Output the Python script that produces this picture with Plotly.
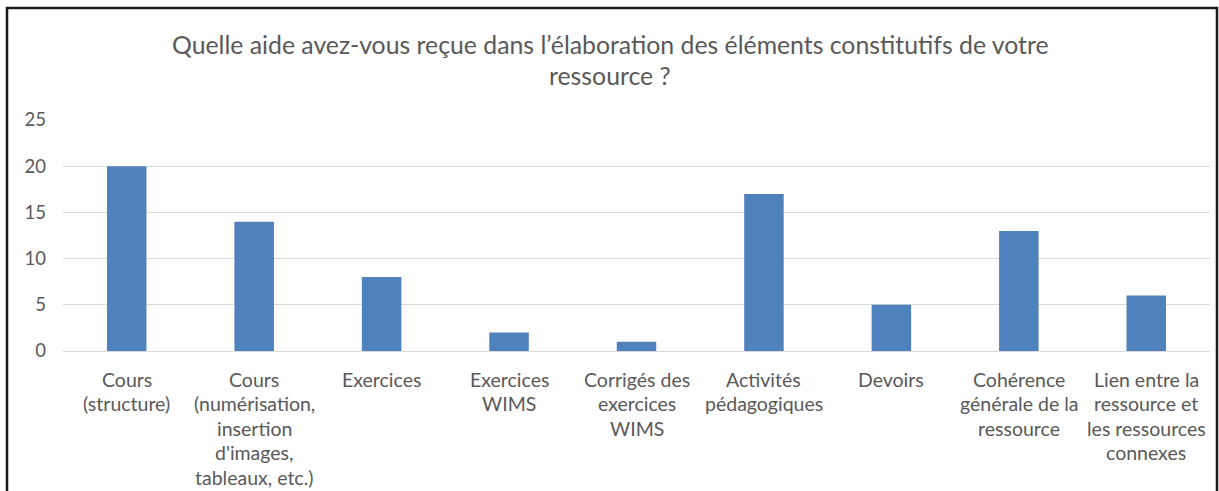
import plotly.graph_objects as go

categories = [
    "Cours\n(structure)",
    "Cours\n(numérisation,\ninsertion\nd'images,\ntableaux, etc.)",
    "Exercices",
    "Exercices\nWIMS",
    "Corrigés des\nexercices\nWIMS",
    "Activités\npédagogiques",
    "Devoirs",
    "Cohérence\ngénérale de la\nressource",
    "Lien entre la\nressource et\nles ressources\nconnexes",
]
values = [20, 14, 8, 2, 1, 17, 5, 13, 6]
y_ticks = [0, 5, 10, 15, 20, 25]
title_lines = [
    "Quelle aide avez-vous reçue dans l’élaboration des éléments constitutifs de votre",
    "ressource ?",
]

W, H = 1219, 491
ML, MR, MT, MB = 63, 9, 120, 140
PW, PH = W - ML - MR, H - MT - MB

FONT = "Lato"
TXT = "#595959"


def px_to_paper_x(px):
    return (px - ML) / PW


def px_to_paper_y(py):
    return (H - MB - py) / PH


fig = go.Figure()
fig.add_trace(go.Bar(
    x=list(range(len(categories))), y=values,
    marker=dict(color="#4F81BD", line=dict(width=0)),
    width=0.31, hoverinfo="y",
))

annotations = []
line_h = 24.5
for i, cat in enumerate(categories):
    for j, line in enumerate(cat.split("\n")):
        annotations.append(dict(
            x=i, xref="x", y=0, yref="paper", yanchor="middle",
            yshift=-(28 + j * line_h), text=line, showarrow=False,
            font=dict(family=FONT, size=19.5, color=TXT),
        ))
for j, line in enumerate(title_lines):
    annotations.append(dict(
        x=px_to_paper_x(610), xref="paper", y=1, yref="paper", yanchor="middle",
        yshift=(MT - 44 - j * 31), text=line, showarrow=False,
        font=dict(family=FONT, size=24.8, color=TXT),
        xanchor="center",
    ))

fig.add_shape(type="rect", xref="paper", yref="paper",
              x0=px_to_paper_x(7), x1=px_to_paper_x(1217),
              y0=px_to_paper_y(520), y1=px_to_paper_y(8),
              line=dict(color="#1a1a1a", width=2.5), layer="above")

fig.update_layout(
    width=W, height=H,
    margin=dict(l=ML, r=MR, t=MT, b=MB),
    paper_bgcolor="white", plot_bgcolor="white",
    showlegend=False,
    bargap=0.69,
    annotations=annotations,
    xaxis=dict(range=[-0.5, len(categories) - 0.5], showticklabels=False,
               showgrid=False, zeroline=False, showline=False, ticks=""),
    yaxis=dict(range=[0, 25], tickvals=y_ticks, showgrid=True,
               gridcolor="#D9D9D9", gridwidth=1, zeroline=True,
               zerolinecolor="#D9D9D9", zerolinewidth=1, showline=False,
               ticks="", ticklabelstandoff=16,
               tickfont=dict(family=FONT, size=18.5, color=TXT)),
)

fig.write_html("out.html",
               config={"displayModeBar": False},
               post_script="document.body.style.margin='0';document.body.style.overflow='hidden';")
